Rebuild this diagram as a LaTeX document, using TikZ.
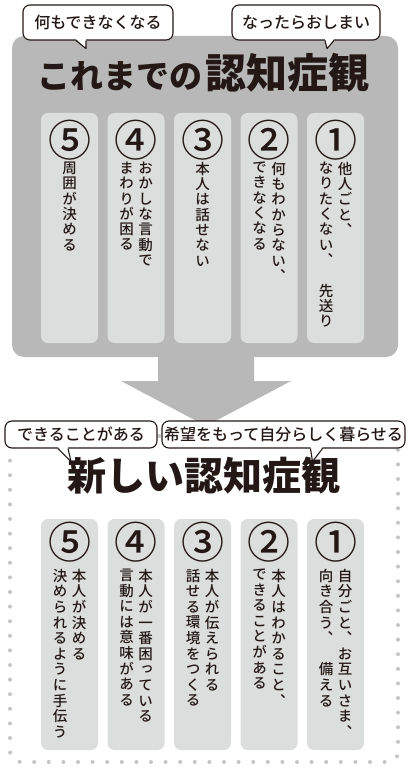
\documentclass[tikz,border=0pt]{standalone}
\usepackage{fontspec}
\usepackage{tikz}
\usetikzlibrary{calc}
\newfontfamily\jpfont{Noto Sans CJK JP}[UprightFont=* Medium]
\newfontfamily\jpheavy{Noto Sans CJK JP}[UprightFont=* Black]
\newfontfamily\tatefont{Noto Sans CJK JP}[UprightFont=* Medium, RawFeature=+vert]
\definecolor{boxgray}{RGB}{183,184,183}
\definecolor{colgray}{RGB}{220,222,221}
\definecolor{dotgray}{RGB}{196,197,197}
\definecolor{inkblack}{RGB}{35,24,21}

\tikzset{
  bubble/.style={draw=inkblack, line width=1.1pt, fill=white, rounded corners=7pt,
                 inner sep=0pt, text=inkblack, font=\jpfont\fontsize{16}{16}\selectfont},
  tailline/.style={draw=inkblack, line width=1.1pt, line join=round},
  column/.style={fill=colgray, rounded corners=7pt, minimum width=57pt,
                 minimum height=230pt, inner sep=0pt},
  numtext/.style={text=inkblack, font=\jpfont\fontsize{43}{43}\selectfont},
  tatetext/.style={anchor=north, align=center, inner sep=0pt, text=inkblack,
                   font=\tatefont\fontsize{14.5}{15.3}\selectfont},
  dotframe/.style={draw=dotgray, line width=4pt, line cap=round,
                   dash pattern=on 0pt off 14.6pt, rounded corners=10pt}
}
\newcommand\bubbletail[4]{%
  \fill[white] ($(#1.south)+(#2,-1.5)$) -- ($(#1.south)+(#3)$) -- ($(#1.south)+(#4,-1.5)$) -- cycle;
  \draw[tailline] ($(#1.south)+(#2,0)$) -- ($(#1.south)+(#3)$) -- ($(#1.south)+(#4,0)$);}

\begin{document}
\begin{tikzpicture}[x=1pt, y=-1pt]
  \useasboundingbox (0,0) rectangle (413,773);

  % これまで
  \node[fill=boxgray, rounded corners=12pt, minimum width=386pt, minimum height=321pt,
        inner sep=0pt] (oldbox) at (205,196.5) {};
  \fill[boxgray] (158,350) -- (254,350) -- (254,381) -- (291,381) -- (206,426)
    -- (121,381) -- (158,381) -- cycle;
  \node[text=inkblack] (oldtitle) at (203,73)
    {{\jpheavy\fontsize{33}{33}\selectfont これまでの}\hspace{3pt}{\jpheavy\fontsize{41}{41}\selectfont 認知症観}};

  \foreach \i/\dx/\ra/\la in {1/9.5/{他\\人\\ご\\と\\、}/{な\\り\\た\\く\\な\\い\\、\\　\\先\\送\\り},
      2/9.5/{何\\も\\わ\\か\\ら\\な\\い\\、}/{で\\き\\な\\く\\な\\る},
      3/0/{本\\人\\は\\話\\せ\\な\\い}/{},
      4/9.5/{お\\か\\し\\な\\言\\動\\で}/{ま\\わ\\り\\が\\困\\る},
      5/0/{周\\囲\\が\\決\\め\\る}/{}} {
    \node[column] (oldcol\i) at (335.5-66.5*\i+66.5, 228) {};
    \node[numtext] (oldnum\i) at ($(oldcol\i.north)+(0,27)$) {\ifcase\i\or ①\or ②\or ③\or ④\or ⑤\fi};
    \node[tatetext] (oldr\i) at ($(oldcol\i.north)+(\dx,49)$) {\ra};
    \node[tatetext] (oldl\i) at ($(oldcol\i.north)+(-\dx,49)$) {\la};
  }

  \node[bubble, minimum width=150pt, minimum height=35pt] (oldb1) at (98,22.5) {何もできなくなる};
  \bubbletail{oldb1}{-22}{-12,8}{-12}
  \node[bubble, minimum width=148pt, minimum height=35pt] (oldb2) at (306,22.5) {なったらおしまい};
  \bubbletail{oldb2}{19}{21,8}{28}

  % 新しい
  \draw[dotframe] (10,436) rectangle (398,762);
  \node[text=inkblack, font=\jpheavy\fontsize{39}{39}\selectfont] (newtitle) at (204,476) {新しい認知症観};

  \foreach \i/\ra/\la in {1/{自\\分\\ご\\と\\、\\お\\互\\い\\さ\\ま\\、}/{向\\き\\合\\う\\、\\　\\備\\え\\る},
      2/{本\\人\\は\\わ\\か\\る\\こ\\と\\、}/{で\\き\\る\\こ\\と\\が\\あ\\る},
      3/{本\\人\\が\\伝\\え\\ら\\れ\\る}/{話\\せ\\る\\環\\境\\を\\つ\\く\\る},
      4/{本\\人\\が\\一\\番\\困\\っ\\て\\い\\る}/{言\\動\\に\\は\\意\\味\\が\\あ\\る},
      5/{本\\人\\が\\決\\め\\る}/{決\\め\\ら\\れ\\る\\よ\\う\\に\\手\\伝\\う}} {
    \node[column, minimum height=231pt] (newcol\i) at (335.5-66.5*\i+66.5, 634.5) {};
    \node[numtext] (newnum\i) at ($(newcol\i.north)+(0,23)$) {\ifcase\i\or ①\or ②\or ③\or ④\or ⑤\fi};
    \node[tatetext, font=\tatefont\fontsize{14.5}{15.6}\selectfont] (newr\i) at ($(newcol\i.north)+(9.5,50)$) {\ra};
    \node[tatetext, font=\tatefont\fontsize{14.5}{15.6}\selectfont] (newl\i) at ($(newcol\i.north)+(-9.5,50)$) {\la};
  }

  \node[bubble, minimum width=152pt, minimum height=27pt] (newb1) at (81,434.5) {できることがある};
  \bubbletail{newb1}{-23}{-10,13}{-13}
  \node[bubble, minimum width=243pt, minimum height=27pt] (newb2) at (283.5,434.5) {希望をもって自分らしく暮らせる};
  \bubbletail{newb2}{27}{29,13}{39}
\end{tikzpicture}
\end{document}
